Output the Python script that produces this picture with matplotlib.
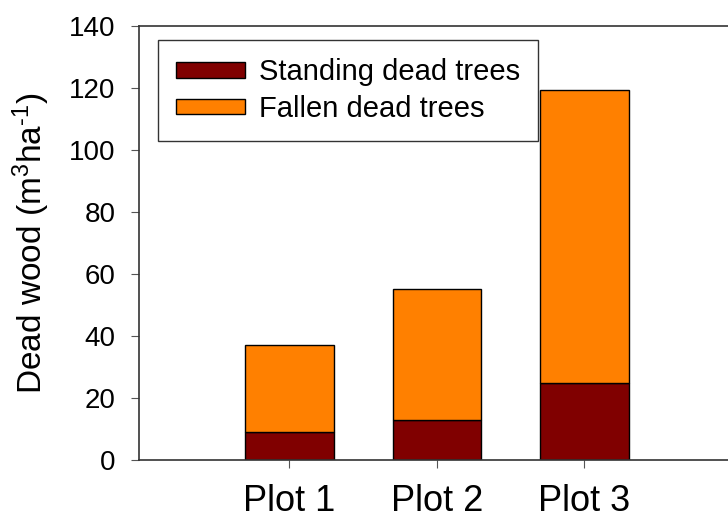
import numpy as np
import matplotlib.pyplot as plt

plt.rcParams['font.family'] = ['Liberation Sans', 'DejaVu Sans']
plt.rcParams['mathtext.fontset'] = 'custom'
plt.rcParams['mathtext.rm'] = 'Liberation Sans'
plt.rcParams['mathtext.it'] = 'Liberation Sans:italic'
plt.rcParams['mathtext.bf'] = 'Liberation Sans:bold'

plots = ['Plot 1', 'Plot 2', 'Plot 3']
standing = [9.0, 13.0, 25.0]
fallen = [28.0, 42.3, 94.3]

x = np.arange(1, len(plots) + 1)

fig = plt.figure(figsize=(7.28, 5.2), dpi=100)
ax = fig.add_axes([139 / 728, 60 / 520, (732 - 139) / 728, (460 - 26) / 520])

ax.bar(x, standing, width=0.6, color='#800000', edgecolor='black', linewidth=1,
       label='Standing dead trees')
ax.bar(x, fallen, width=0.6, bottom=standing, color='#ff8000', edgecolor='black',
       linewidth=1, label='Fallen dead trees')

ax.set_xlim(-0.02, 4)
ax.set_ylim(0, 140)
ax.set_yticks(np.arange(0, 141, 20))
ax.set_xticks(x)
ax.set_xticklabels(plots, fontsize=26)
ax.tick_params(axis='x', direction='out', length=6, pad=11, color='#555555')
ax.tick_params(axis='y', direction='out', length=6, pad=11, labelsize=20, color='#555555')
ax.set_ylabel(r'Dead wood (m$^{3}$ha$^{\text{-1}}$)', fontsize=24, labelpad=12)

for s in ax.spines.values():
    s.set_linewidth(1.2)
    s.set_color('#333333')

leg = ax.legend(loc='upper left', bbox_to_anchor=(19 / 593, 420 / 434), fontsize=21,
                frameon=True, fancybox=False, edgecolor='black', handlelength=2.35,
                handleheight=0.45, borderpad=0.62, labelspacing=0.3, handletextpad=0.5,
                borderaxespad=0)
leg.get_frame().set_linewidth(1)

fig.savefig('out.png', dpi=100)
